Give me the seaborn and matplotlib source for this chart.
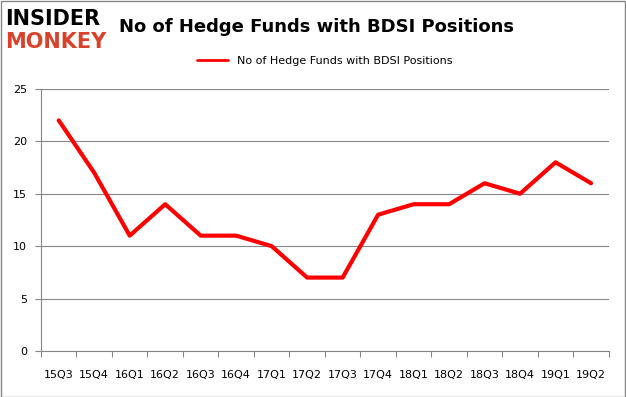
import numpy as np
import pandas as pd
import seaborn as sns
import matplotlib.pyplot as plt

# quarterly hedge fund counts
quarters = ['15Q3', '15Q4', '16Q1', '16Q2', '16Q3', '16Q4', '17Q1', '17Q2',
            '17Q3', '17Q4', '18Q1', '18Q2', '18Q3', '18Q4', '19Q1', '19Q2']
funds = [22, 17, 11, 14, 11, 11, 10, 7, 7, 13, 14, 14, 16, 15, 18, 16]
series_name = 'No of Hedge Funds with BDSI Positions'

df = pd.DataFrame({'Quarter': quarters, 'Funds': funds})

sns.set_style('white')
plt.rcParams['font.family'] = ['DejaVu Sans']
plt.rcParams['text.color'] = 'black'
plt.rcParams['xtick.color'] = 'black'
plt.rcParams['ytick.color'] = 'black'

fig = plt.figure(figsize=(6.26, 3.97), dpi=100)
ax = fig.add_axes([0.0655, 0.116, 0.907, 0.66])

sns.lineplot(data=df, x='Quarter', y='Funds', color='#ff0000', linewidth=3,
             label=series_name, ax=ax, sort=False)

ax.set_ylim(0, 25)
ax.set_yticks(range(0, 26, 5))
ax.set_xlim(-0.5, len(quarters) - 0.5)
ax.set_xticks(np.arange(-0.5, len(quarters), 1.0))
ax.set_xticklabels([])
ax.set_xticks(range(len(quarters)), minor=True)
ax.set_xticklabels(quarters, minor=True)
ax.tick_params(axis='x', which='major', length=4, color='#868686', direction='out', bottom=True)
ax.tick_params(axis='x', which='minor', length=0, pad=14, labelsize=8)
ax.tick_params(axis='y', length=4, color='#868686', direction='out', labelsize=8, pad=6, left=True)
ax.grid(axis='y', color='#868686', linewidth=0.8)
ax.set_axisbelow(True)
for s in ['top', 'right']:
    ax.spines[s].set_visible(False)
for s in ['left', 'bottom']:
    ax.spines[s].set_color('#868686')
    ax.spines[s].set_linewidth(0.8)
ax.set_xlabel('')
ax.set_ylabel('')

leg = ax.legend(loc='lower center', bbox_to_anchor=(0.5, 1.07), frameon=False,
                fontsize=8, handlelength=2.8, borderaxespad=0)
leg.get_lines()[0].set_linewidth(2)

fig.text(0.505, 0.932, series_name, ha='center', va='center', fontsize=13,
         fontweight='bold')
fig.text(0.008, 0.953, 'INSIDER', ha='left', va='center', fontsize=15,
         fontweight='heavy', color='black')
fig.text(0.008, 0.893, 'MONKEY', ha='left', va='center', fontsize=15,
         fontweight='heavy', color='#d9412b')

fig.patches.append(plt.Rectangle((0.001, 0.001), 0.997, 0.997, transform=fig.transFigure,
                                 fill=False, edgecolor='#868686', linewidth=1))

plt.savefig('out.png', dpi=100)
plt.close()
